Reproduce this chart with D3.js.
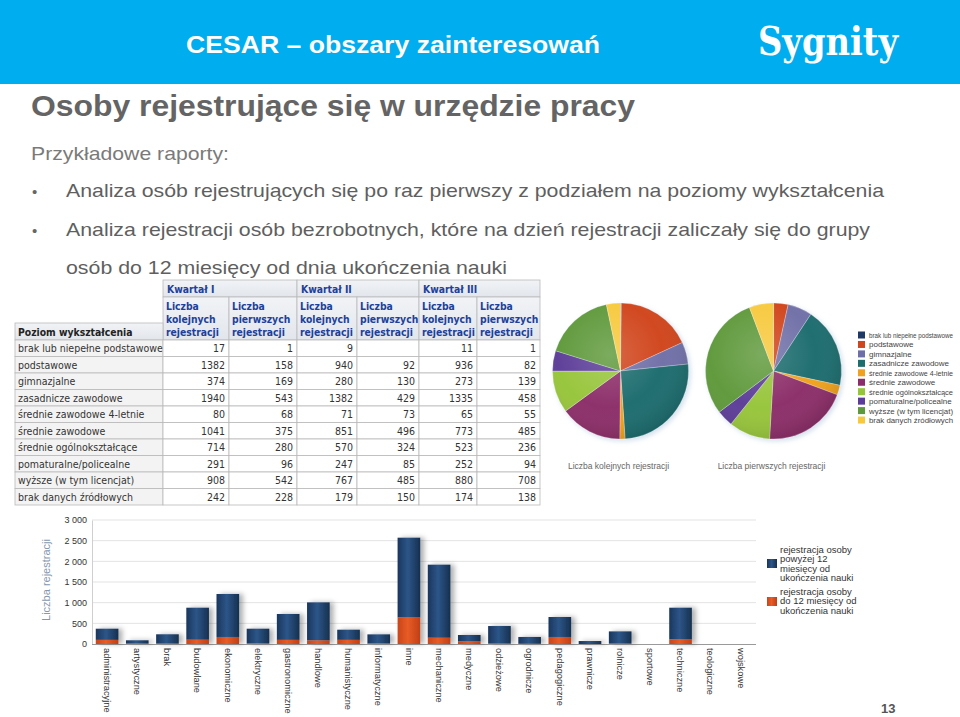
<!DOCTYPE html>
<html><head><meta charset="utf-8">
<script src="https://cdn.jsdelivr.net/npm/d3@7"></script>
<style>
html,body{margin:0;padding:0;background:#fff;}
svg{display:block;}
</style></head>
<body>
<svg id="c" width="960" height="717"></svg>
<script>
// ---------- DATA ----------
const slideTitle = "CESAR – obszary zainteresowań";
const heading = "Osoby rejestrujące się w urzędzie pracy";
const intro = "Przykładowe raporty:";
const bullets = [
  ["Analiza osób rejestrujących się po raz pierwszy z podziałem na poziomy wykształcenia"],
  ["Analiza rejestracji osób bezrobotnych, które na dzień rejestracji zaliczały się do grupy",
   "osób do 12 miesięcy od dnia ukończenia nauki"]
];
const levels = ["brak lub niepełne podstawowe","podstawowe","gimnazjalne","zasadnicze zawodowe",
  "średnie zawodowe 4-letnie","średnie zawodowe","średnie ogólnokształcące","pomaturalne/policealne",
  "wyższe (w tym licencjat)","brak danych źródłowych"];
const quarters = ["Kwartał I","Kwartał II","Kwartał III"];
const subHeaders = [["Liczba","kolejnych","rejestracji"],["Liczba","pierwszych","rejestracji"]];
const q1k = [17,1382,374,1940,80,1041,714,291,908,242];
const q1p = [1,158,169,543,68,375,280,96,542,228];
const q2k = [9,940,280,1382,71,851,570,247,767,179];
const q2p = [null,92,130,429,73,496,324,85,485,150];
const q3k = [11,936,273,1335,65,773,523,252,880,174];
const q3p = [1,82,139,458,55,485,236,94,708,138];
const levelColors = ["#1d3a66","#d0451c","#6f6fa8","#1d6c6e","#f0a21e","#8c2d69","#97c53a","#5b3c98","#5e993b","#f7c93c"];
const pieTitles = ["Liczba kolejnych rejestracji","Liczba pierwszych rejestracji"];

const fields = ["administracyjne","artystyczne","brak","budowlane","ekonomiczne","elektryczne",
  "gastronomiczne","handlowe","humanistyczne","informatyczne","inne","mechaniczne","medyczne",
  "odzieżowe","ogrodnicze","pedagogiczne","prawnicze","rolnicze","sportowe","techniczne",
  "teologiczne","wojskowe"];
const upTo12 =   [100,10,10,104,170,20,100,90,100,15,645,152,64,10,5,170,0,10,0,112,0,0];
const over12 =   [270,80,225,774,1040,350,626,917,246,218,1927,1767,154,425,165,483,72,295,0,766,0,0];
const yTicks = [0,500,1000,1500,2000,2500,3000];
const barLegend = [
  ["rejestracja osoby","powyżej 12","miesięcy od","ukończenia nauki"],
  ["rejestracja osoby","do 12 miesięcy od","ukończenia nauki"]
];
const yTitle = "Liczba rejestracji";
const pageNo = "13";

// ---------- DRAW ----------
const svg = d3.select("#c");
const defs = svg.append("defs");
const SANS = "'Liberation Sans', Arial, sans-serif";
const NARROW = "'Liberation Sans Narrow', 'Arial Narrow', 'Liberation Sans', sans-serif";
const TAB = "'DejaVu Sans Condensed', Tahoma, 'DejaVu Sans', sans-serif";

// header band
svg.append("rect").attr("x",0).attr("y",0).attr("width",960).attr("height",84).attr("fill","#00adef");
svg.append("text").attr("x",186).attr("y",53).attr("fill","#fff")
  .attr("font-family",NARROW).attr("font-weight","bold").attr("font-size",23)
  .attr("textLength",414).attr("lengthAdjust","spacingAndGlyphs").text(slideTitle);
svg.append("text").attr("x",758).attr("y",55).attr("fill","#fff")
  .attr("font-family","'DejaVu Serif','Liberation Serif',serif").attr("font-weight","bold").attr("font-size",40)
  .attr("textLength",140).attr("lengthAdjust","spacingAndGlyphs").text("Sygnity");

svg.append("text").attr("x",31).attr("y",116).attr("fill","#646464")
  .attr("font-family",NARROW).attr("font-weight","bold").attr("font-size",30)
  .attr("textLength",604).attr("lengthAdjust","spacingAndGlyphs").text(heading);
svg.append("text").attr("x",31).attr("y",160).attr("fill","#7a7a7a")
  .attr("font-family",SANS).attr("font-size",19)
  .attr("textLength",198).attr("lengthAdjust","spacingAndGlyphs").text(intro);

const bulletLens = [[818],[804,441]];
const bulletY = [[197],[236,274]];
bullets.forEach((b,i)=>{
  svg.append("text").attr("x",32).attr("y",bulletY[i][0]).attr("fill","#666")
    .attr("font-family",SANS).attr("font-size",15).text("•");
  b.forEach((line,j)=>{
    svg.append("text").attr("x",66).attr("y",bulletY[i][j]).attr("fill","#5f5f5f")
      .attr("font-family",SANS).attr("font-size",19)
      .attr("textLength",bulletLens[i][j]).attr("lengthAdjust","spacingAndGlyphs").text(line);
  });
});

// ---------- TABLE ----------
const colX = [15,163,229,297,357,419,477,540];
const rowTop = 340, rowH = 16.5;
const hg = defs.append("linearGradient").attr("id","hdr").attr("x1",0).attr("y1",0).attr("x2",0).attr("y2",1);
hg.append("stop").attr("offset","0%").attr("stop-color","#f1f3f6");
hg.append("stop").attr("offset","100%").attr("stop-color","#e2e6ec");
const tbl = svg.append("g");
const border = "#b9b9b9";
const blue = "#20409a";
quarters.forEach((q,i)=>{
  const x0 = colX[1+2*i], x1 = colX[3+2*i];
  tbl.append("rect").attr("x",x0).attr("y",280).attr("width",x1-x0).attr("height",17)
    .attr("fill","url(#hdr)").attr("stroke",border).attr("stroke-width",0.8);
  tbl.append("text").attr("x",x0+4).attr("y",293).attr("fill",blue)
    .attr("font-family",TAB).attr("font-weight","bold").attr("font-size",10.3).text(q);
  [0,1].forEach(k=>{
    const a = colX[1+2*i+k], b = colX[2+2*i+k];
    tbl.append("rect").attr("x",a).attr("y",297).attr("width",b-a).attr("height",43)
      .attr("fill","url(#hdr)").attr("stroke",border).attr("stroke-width",0.8);
    subHeaders[k].forEach((s,m)=>{
      tbl.append("text").attr("x",a+3).attr("y",309.5+m*13.3).attr("fill",blue)
        .attr("font-family",TAB).attr("font-weight","bold").attr("font-size",10.3).text(s);
    });
  });
});
tbl.append("rect").attr("x",colX[0]).attr("y",323).attr("width",colX[1]-colX[0]).attr("height",17)
  .attr("fill","url(#hdr)").attr("stroke",border).attr("stroke-width",0.8);
tbl.append("text").attr("x",colX[0]+3).attr("y",335.5).attr("fill","#222")
  .attr("font-family",TAB).attr("font-weight","bold").attr("font-size",10.3).text("Poziom wykształcenia");
const cols = [q1k,q1p,q2k,q2p,q3k,q3p];
levels.forEach((lv,r)=>{
  const y = rowTop + r*rowH;
  tbl.append("rect").attr("x",colX[0]).attr("y",y).attr("width",colX[1]-colX[0]).attr("height",rowH)
    .attr("fill","#f3f3f3").attr("stroke",border).attr("stroke-width",0.8);
  tbl.append("text").attr("x",colX[0]+3).attr("y",y+12).attr("fill","#333")
    .attr("font-family",TAB).attr("font-size",10.5).text(lv);
  cols.forEach((c,k)=>{
    const a = colX[1+k], b = colX[2+k];
    tbl.append("rect").attr("x",a).attr("y",y).attr("width",b-a).attr("height",rowH)
      .attr("fill","#fff").attr("stroke",border).attr("stroke-width",0.8);
    if(c[r]!==null) tbl.append("text").attr("x",b-4).attr("y",y+12).attr("text-anchor","end").attr("fill","#333")
      .attr("font-family",TAB).attr("font-size",10.5).text(c[r]);
  });
});

// ---------- PIES ----------
const shade = defs.append("radialGradient").attr("id","pieShade").attr("cx","42%").attr("cy","38%").attr("r","65%");
shade.append("stop").attr("offset","0%").attr("stop-color","#fff").attr("stop-opacity",0.18);
shade.append("stop").attr("offset","60%").attr("stop-color","#fff").attr("stop-opacity",0.02);
shade.append("stop").attr("offset","100%").attr("stop-color","#000").attr("stop-opacity",0.12);
const pf = defs.append("filter").attr("id","pieGlow").attr("x","-20%").attr("y","-20%").attr("width","140%").attr("height","140%");
pf.append("feDropShadow").attr("dx",2).attr("dy",2).attr("stdDeviation",2.5).attr("flood-color","#7fa6c8").attr("flood-opacity",0.35);

const pie = d3.pie().sort(null).value(d=>d||0);
const arc = d3.arc().innerRadius(0).outerRadius(68);
[[q3k,620.5],[q3p,773.5]].forEach(([vals,cx],i)=>{
  const g = svg.append("g").attr("transform",`translate(${cx},371)`);
  const gg = g.append("g").attr("filter","url(#pieGlow)");
  gg.selectAll("path").data(pie(vals)).join("path").attr("d",arc)
    .attr("fill",(d,j)=>levelColors[j]).attr("stroke","rgba(255,255,255,0.45)").attr("stroke-width",0.6);
  g.append("circle").attr("r",68).attr("fill","url(#pieShade)");
  svg.append("text").attr("x",cx-2).attr("y",469).attr("text-anchor","middle").attr("fill","#666")
    .attr("font-family",SANS).attr("font-size",8.5).text(pieTitles[i]);
});
// pie legend — long labels squeezed so they stay inside the slide
levels.forEach((lv,i)=>{
  const y = 335 + i*9.45;
  svg.append("rect").attr("x",858).attr("y",y-3.5).attr("width",7).attr("height",7).attr("fill",levelColors[i]);
  const t = svg.append("text").attr("x",869).attr("y",y+3).attr("fill","#444")
    .attr("font-family",SANS).attr("font-size",8).text(lv);
  const w = t.node().getComputedTextLength();
  if (w > 84) t.attr("textLength",84).attr("lengthAdjust","spacingAndGlyphs");
});

// ---------- BAR CHART ----------
const x = d3.scaleBand().domain(fields).range([92,756]).paddingInner(0.25).paddingOuter(0.125);
const y = d3.scaleLinear().domain([0,3000]).range([644,520]);
const bars = svg.append("g");
bars.append("g").selectAll("line").data(yTicks.slice(1)).join("line")
  .attr("x1",92).attr("x2",756).attr("y1",d=>y(d)).attr("y2",d=>y(d))
  .attr("stroke","#e3e3e3").attr("stroke-width",1);
const yAxis = d3.axisLeft(y).tickValues(yTicks).tickSize(0).tickPadding(5)
  .tickFormat(d=>d3.format(",")(d).replace(/,/g," "));
const ya = bars.append("g").attr("transform","translate(92,0)").call(yAxis);
ya.select(".domain").attr("stroke","#cfcfcf");
ya.selectAll("text").attr("font-family",SANS).attr("font-size",9).attr("fill","#333");
bars.append("line").attr("x1",92).attr("x2",756).attr("y1",644.5).attr("y2",644.5).attr("stroke","#9a9a9a");

const bgB = defs.append("linearGradient").attr("id","gBlue").attr("x1",0).attr("x2",1).attr("y1",0).attr("y2",0);
[["0%","#1a365d"],["45%","#2c5688"],["100%","#16304f"]].forEach(s=>bgB.append("stop").attr("offset",s[0]).attr("stop-color",s[1]));
const bgO = defs.append("linearGradient").attr("id","gOrange").attr("x1",0).attr("x2",1).attr("y1",0).attr("y2",0);
[["0%","#c9451a"],["45%","#e85c26"],["100%","#c03f16"]].forEach(s=>bgO.append("stop").attr("offset",s[0]).attr("stop-color",s[1]));
const bf = defs.append("filter").attr("id","barSh").attr("x","-30%").attr("y","-10%").attr("width","180%").attr("height","120%");
bf.append("feDropShadow").attr("dx",4).attr("dy",0).attr("stdDeviation",2.5).attr("flood-color","#000").attr("flood-opacity",0.3);

const rows = fields.map((f,i)=>({f, a:upTo12[i], b:over12[i]}));
const stack = d3.stack().keys(["a","b"])(rows);
const fills = ["url(#gOrange)","url(#gBlue)"];
const barG = bars.append("g").attr("filter","url(#barSh)");
stack.forEach((s,k)=>{
  barG.append("g").selectAll("rect").data(s.filter(d=>d[1]-d[0]>0)).join("rect")
    .attr("x",d=>x(d.data.f)).attr("width",x.bandwidth())
    .attr("y",d=>y(d[1])).attr("height",d=>y(d[0])-y(d[1]))
    .attr("fill",fills[k]);
});
bars.append("g").selectAll("text").data(fields).join("text")
  .attr("transform",d=>`translate(${x(d)+x.bandwidth()/2},648) rotate(90)`)
  .attr("dy","0.35em").attr("fill","#333").attr("font-family",SANS).attr("font-size",9.3).text(d=>d);
svg.append("text").attr("transform","translate(50,580) rotate(-90)").attr("text-anchor","middle")
  .attr("fill","#8797ae").attr("font-family",SANS).attr("font-size",11).text(yTitle);
const legC = ["url(#gBlue)","url(#gOrange)"];
const legTop = [553,595];
const swY = [559,597];
barLegend.forEach((lines,i)=>{
  svg.append("rect").attr("x",767).attr("y",swY[i]).attr("width",10).attr("height",9).attr("fill",legC[i]);
  lines.forEach((t,j)=>{
    svg.append("text").attr("x",780).attr("y",legTop[i]+j*9.3).attr("fill","#333")
      .attr("font-family",SANS).attr("font-size",9.5).text(t);
  });
});
svg.append("text").attr("x",881).attr("y",713).attr("fill","#555").attr("font-family",SANS)
  .attr("font-weight","bold").attr("font-size",13).text(pageNo);
</script>
</body></html>
